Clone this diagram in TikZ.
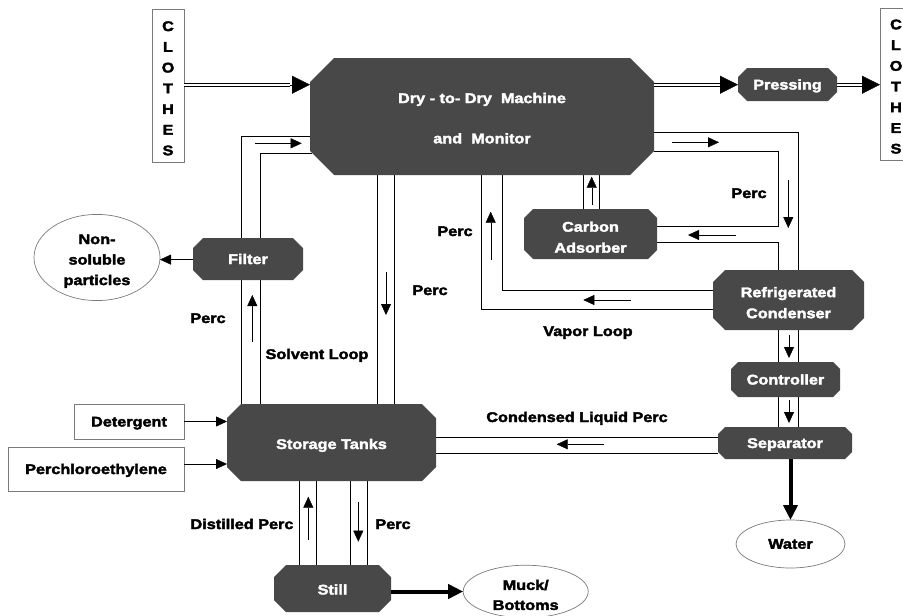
\documentclass[tikz,border=0pt]{standalone}
\usepackage{fontspec}
\newfontfamily\lbl{Liberation Sans}[FakeStretch=1.16, FakeBold=2.5]
\usetikzlibrary{arrows.meta,shapes.geometric}
\pgfdeclarelayer{pipes}\pgfdeclarelayer{boxes}\pgfsetlayers{pipes,boxes,main}
\definecolor{boxgray}{HTML}{484848}
\definecolor{edgegray}{HTML}{7A7A7A}
\newcommand\fnt{\lbl\bfseries\fontsize{14}{21}\selectfont}
\newcommand\strutx[1]{\rule{0pt}{#1}}
\newcommand\cbox[8][]{%
 \node[boxtext, minimum width=#5, minimum height=#6, #1] (#2) at (#3,#4) {#8};
 \begin{pgfonlayer}{boxes}
 \fill[boxgray] ([xshift=#7]#2.north west) -- ([xshift=-#7]#2.north east) -- ([yshift=-#7]#2.north east) -- ([yshift=#7]#2.south east) -- ([xshift=-#7]#2.south east) -- ([xshift=#7]#2.south west) -- ([yshift=#7]#2.south west) -- ([yshift=-#7]#2.north west) -- cycle;
 \end{pgfonlayer}}
\begin{document}
\begin{tikzpicture}[x=1pt,y=-1pt, line width=0.9pt,
 boxtext/.style={inner sep=0pt, outer sep=0pt, text=white, font=\fnt, align=center},
 oneline/.style={text height=10pt, text depth=0pt},
 rbox/.style={draw=edgegray, line width=0.7pt, inner sep=0pt, outer sep=0pt, font=\fnt, align=center},
 ell/.style={ellipse, draw=edgegray, line width=0.7pt, inner sep=0pt, outer sep=0pt, font=\fnt, align=center},
 lbl/.style={inner sep=0pt, font=\fnt, text height=10pt, text depth=0pt},
 arr/.style={-{Triangle[length=11pt,width=10pt]}},
 big/.style={-{Triangle[length=18pt,width=18pt]}},
 fat/.style={line width=4pt, -{Triangle[length=15pt,width=14pt]}},
 dbl/.style={double, double distance=2.1pt, line width=0.9pt}]
\useasboundingbox (0,0) rectangle (903,616);

% plain boxes
\node[rbox, minimum width=32pt, minimum height=153pt, font={\lbl\bfseries\fontsize{14}{20.7}\selectfont}] (clL) at (168,85.5) {\strutx{15.5pt}C\\L\\O\\T\\H\\E\\S};
\node[rbox, minimum width=32pt, minimum height=152pt, font={\lbl\bfseries\fontsize{14}{20.7}\selectfont}] (clR) at (896,84) {\strutx{15pt}C\\L\\O\\T\\H\\E\\S};
\node[rbox, oneline, minimum width=110pt, minimum height=35pt] (det) at (129,421.5) {Detergent};
\node[rbox, oneline, minimum width=176pt, minimum height=44pt] (perc) at (96,469) {Perchloroethylene};

% chamfered boxes
\cbox[font={\lbl\bfseries\fontsize{14}{40.3}\selectfont}]{machine}{482}{116.5}{344pt}{117pt}{24pt}{\strutx{13.5pt}Dry - to- Dry~ Machine\\and~ Monitor}
\cbox[oneline]{press}{787.5}{84.5}{99pt}{33pt}{9pt}{Pressing}
\cbox{carbon}{590.5}{234}{133pt}{50pt}{9pt}{\strutx{16.5pt}Carbon\\Adsorber}
\cbox{cond}{788.5}{300}{151pt}{60pt}{12pt}{\strutx{15.5pt}Refrigerated\\Condenser}
\cbox[oneline]{ctrl}{785.5}{379.5}{109pt}{35pt}{7pt}{Controller}
\cbox[oneline]{sep}{785}{443}{134pt}{32pt}{7pt}{Separator}
\cbox[text height=13pt, text depth=0pt]{tanks}{331.5}{442.5}{209pt}{77pt}{14pt}{Storage Tanks}
\cbox[text height=12pt, text depth=0pt]{still}{332.5}{588.5}{117pt}{47pt}{12pt}{Still}
\cbox[oneline]{filter}{248}{259}{110pt}{42pt}{10pt}{Filter}

% ellipses
\node[ell, minimum width=126pt, minimum height=68pt, font={\lbl\bfseries\fontsize{14}{20.5}\selectfont}] (nonsol) at (97,257.5) {\strutx{17pt}Non-\\soluble\\particles};
\node[ell, minimum width=109pt, minimum height=48pt] (water) at (790.5,544) {Water};
\node[ell, minimum width=125pt, minimum height=47pt, font={\lbl\bfseries\fontsize{14}{20}\selectfont}] (muck) at (525.7,591.5) {\strutx{17pt}Muck/\\Bottoms};

% labels
\node[lbl] (p1) at (749,193) {Perc};
\node[lbl] (p2) at (455,231) {Perc};
\node[lbl] (vl) at (588,331) {Vapor Loop};
\node[lbl] (p3) at (430,290) {Perc};
\node[lbl] (p4) at (208,318) {Perc};
\node[lbl] (sl) at (317,354) {Solvent Loop};
\node[lbl] (clp) at (577,417) {Condensed Liquid Perc};
\node[lbl] (dp) at (242,524) {Distilled Perc};
\node[lbl] (p5) at (393,524) {Perc};

\begin{pgfonlayer}{pipes}
% solvent loop
\draw (tanks.north -| 240.7,0) -- (240.7,135.7) -- (machine.west |- 0,135.7);
\draw (tanks.north -| 260,0) -- (260,153.3) -- (312,153.3);
\draw[arr] (255,143.3) -- (301.7,143.3);
\draw[arr] (252.3,341.7) -- (252.3,295);
\draw (machine.south -| 376.7,0) -- (tanks.north -| 376.7,0);
\draw (machine.south -| 394.3,0) -- (tanks.north -| 394.3,0);
\draw[arr] (386,271.7) -- (386,315);
% vapor loop
\draw (machine.south -| 481,0) -- (481,309.3) -- (cond.west |- 0,309.3);
\draw (machine.south -| 502,0) -- (502,290) -- (cond.west |- 0,290);
\draw[arr] (630.7,300) -- (583.3,300);
\draw[arr] (490.7,260) -- (490.7,211.7);
% carbon adsorber up
\draw (carbon.north -| 582.7,0) -- (machine.south -| 582.7,0);
\draw (carbon.north -| 599.3,0) -- (machine.south -| 599.3,0);
\draw[arr] (591.7,205) -- (591.7,176.7);
% right perc loop
\draw (machine.east |- 0,132.3) -- (798,132.3) -- (cond.north -| 798,0);
\draw (machine.east |- 0,150.7) -- (778,150.7) -- (778,226) -- (carbon.east |- 0,226);
\draw (carbon.east |- 0,241.7) -- (778,241.7) -- (cond.north -| 778,0);
\draw[arr] (672,142.3) -- (719,142.3);
\draw[arr] (788.3,180) -- (788.3,228);
\draw[arr] (736,235) -- (688,235);
% condenser - controller - separator
\foreach \x in {778,798} {
  \draw (cond.south -| \x,0) -- (ctrl.north -| \x,0);
  \draw (ctrl.south -| \x,0) -- (sep.north -| \x,0);
}
\draw[arr] (789,335) -- (789,358);
\draw[arr] (789,400) -- (789,423);
% condensed liquid perc
\draw (tanks.east |- 0,436.7) -- (sep.west |- 0,436.7);
\draw (tanks.east |- 0,453.3) -- (sep.west |- 0,453.3);
\draw[arr] (604,444.3) -- (556.7,444.3);
% still
\foreach \x in {299.3,316,350,366.7} {
  \draw (tanks.south -| \x,0) -- (still.north -| \x,0);
}
\draw[arr] (308.3,540) -- (308.3,496.7);
\draw[arr] (358.3,501.7) -- (358.3,541.7);
\end{pgfonlayer}

% inputs / outputs
\draw[arr] (det.east) -- (det.east -| tanks.west);
\draw[arr] (perc.east |- 0,464) -- (tanks.west |- 0,464);
\draw[arr] (filter.west |- 0,259.6) -- (nonsol.east |- 0,259.6);
\draw[fat] (sep.south -| water.north) -- (water.north);
\draw[fat] (still.east |- muck.west) -- (muck.west);

% clothes flow
\draw[dbl] (clL.east |- 0,84.7) -- (290,84.7);
\draw[big] (290,84.7) -- (machine.west |- 0,84.7);
\draw[dbl] (machine.east |- 0,84.7) -- (720,84.7);
\draw[big] (720,84.7) -- (press.west |- 0,84.7);
\draw[dbl] (press.east |- 0,84.7) -- (862,84.7);
\draw[big] (862,84.7) -- (clR.west |- 0,84.7);
\end{tikzpicture}
\end{document}
